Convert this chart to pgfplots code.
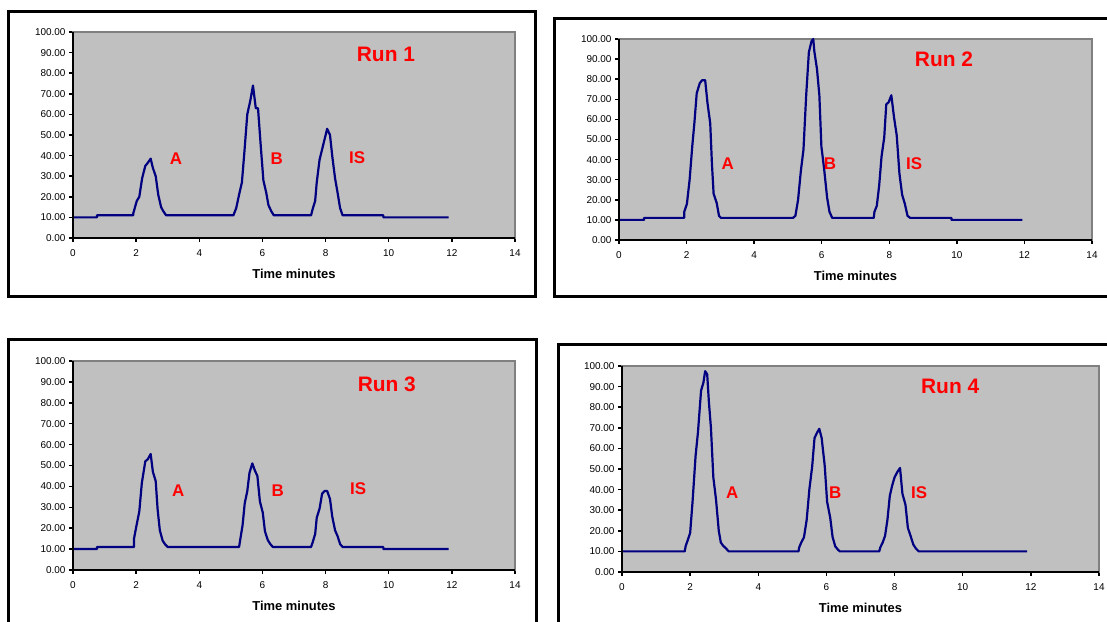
\documentclass[border=0pt]{standalone}
\usepackage{pgfplots}
\pgfplotsset{compat=1.18}
\usepackage{fontspec}
\setmainfont{Liberation Sans}
\definecolor{plotgray}{HTML}{C0C0C0}
\definecolor{axisgray}{HTML}{808080}
\definecolor{trace}{HTML}{000080}
\tikzset{
  runlabel/.style={red, font=\bfseries\fontsize{21}{24}\selectfont},
  peaklabel/.style={red, font=\bfseries\fontsize{17}{20}\selectfont},
  tr/.style={trace, line width=2.2bp, line join=round},
}
\pgfplotsset{
  chrom/.style={
    scale only axis, anchor=south west,
    xmin=0, xmax=14, ymin=0, ymax=100,
    xtick={0,2,...,14}, ytick={0,10,...,100},
    tick pos=left, tick align=outside, major tick length=4bp,
    tick style={black, line width=1.5bp},
    axis background/.style={fill=plotgray},
    axis line style={draw=axisgray, line width=1.5bp},
    ticklabel style={font=\fontsize{10}{12}\selectfont},
    xticklabel style={yshift=-4bp},
    /pgf/number format/assume math mode=true,
    yticklabel style={/pgf/number format/fixed, /pgf/number format/fixed zerofill, /pgf/number format/precision=2},
    xlabel={Time minutes},
    xlabel style={font=\bfseries\fontsize{13}{15}\selectfont, yshift=-6bp},
    clip=false,
  },
}
\begin{document}
\begin{tikzpicture}[x=1bp,y=1bp]
\path[use as bounding box, fill=white] (0,0) rectangle (1107,622);
\draw[line width=3bp] (8,325) rectangle (535,610);
\draw[line width=3bp] (1115,603) -- (554,603) -- (554,325) -- (1115,325);
\draw[line width=3bp] (8,-5) -- (8,282) -- (536,282) -- (536,-5);
\draw[line width=3bp] (558,-5) -- (558,277) -- (1115,277);

% Run 1
\begin{axis}[chrom, at={(73bp,384bp)}, width=442bp, height=206bp]
\addplot[tr] coordinates {
(0,10) (0.76,10) (0.76,11) (1.91,11) (1.91,12) (2.02,18) (2.10,20) (2.19,29) (2.29,35) (2.37,36.5) (2.46,38.5) (2.53,34) (2.62,30) (2.70,21) (2.79,15) (2.86,13) (2.95,11)
(5.08,11) (5.17,14.5) (5.26,21) (5.35,27) (5.43,42) (5.52,60) (5.62,67) (5.70,74) (5.79,63) (5.86,63) (5.95,44) (6.03,28) (6.12,22) (6.19,16) (6.28,13) (6.36,11)
(7.54,11) (7.59,14) (7.67,18) (7.72,27) (7.81,38) (7.89,43) (7.97,48) (8.05,53) (8.14,50) (8.21,40) (8.30,29) (8.38,22) (8.46,14.5) (8.54,11)
(9.83,11) (9.83,10) (11.90,10)};
\draw[black, line width=2bp] (rel axis cs:0,1) -- (rel axis cs:0,0) -- (rel axis cs:1,0);
\node[runlabel] at (rel axis cs:0.708,0.893) {Run 1};
\node[peaklabel] at (rel axis cs:0.233,0.383) {A};
\node[peaklabel] at (rel axis cs:0.461,0.383) {B};
\node[peaklabel] at (rel axis cs:0.643,0.39) {IS};
\end{axis}

% Run 2
\begin{axis}[chrom, at={(619bp,382bp)}, width=473bp, height=201bp]
\addplot[tr] coordinates {
(0,10) (0.74,10) (0.74,11) (1.93,11) (1.93,14) (2.01,18) (2.09,30) (2.17,47) (2.23,58) (2.30,73) (2.39,78) (2.46,79.5) (2.55,79.5) (2.62,68) (2.70,58) (2.75,38) (2.80,23) (2.89,18.5) (2.96,12) (3.02,11)
(5.15,11) (5.22,12) (5.30,20) (5.38,34) (5.46,45) (5.54,72) (5.62,93.5) (5.70,99) (5.75,100) (5.78,94) (5.86,85) (5.93,72) (5.99,46.5) (6.07,35.5) (6.16,21) (6.23,14) (6.31,11)
(7.54,11) (7.56,14) (7.63,17) (7.70,27) (7.77,41.5) (7.85,51) (7.91,67.5) (7.98,68.5) (8.06,72) (8.14,61) (8.22,52) (8.30,33) (8.38,22.5) (8.46,18) (8.54,12) (8.62,11)
(9.84,11) (9.84,10) (11.94,10)};
\draw[black, line width=2bp] (rel axis cs:0,1) -- (rel axis cs:0,0) -- (rel axis cs:1,0);
\node[runlabel] at (rel axis cs:0.687,0.90) {Run 2};
\node[peaklabel] at (rel axis cs:0.23,0.378) {A};
\node[peaklabel] at (rel axis cs:0.446,0.378) {B};
\node[peaklabel] at (rel axis cs:0.624,0.378) {IS};
\end{axis}

% Run 3
\begin{axis}[chrom, at={(73bp,52bp)}, width=442bp, height=209bp]
\addplot[tr] coordinates {
(0,10) (0.76,10) (0.76,11) (1.93,11) (1.93,14.8) (2.02,22) (2.10,28) (2.18,41.6) (2.29,52) (2.37,53) (2.46,55.5) (2.53,47) (2.62,42.5) (2.68,29) (2.75,19) (2.84,14) (2.92,12.2) (3.00,11)
(5.26,11) (5.30,14.8) (5.37,21.3) (5.44,32) (5.52,37.7) (5.59,46.5) (5.68,51) (5.76,47.6) (5.84,45) (5.92,32.8) (6.01,27.5) (6.08,18.5) (6.17,14.3) (6.25,12.4) (6.33,11)
(7.54,11) (7.59,13.2) (7.67,17.2) (7.72,25) (7.81,29.4) (7.89,36.5) (7.97,37.8) (8.05,37.8) (8.14,34) (8.21,25.7) (8.30,19) (8.38,16.2) (8.46,12.4) (8.54,11)
(9.83,11) (9.83,10) (11.90,10)};
\draw[black, line width=2bp] (rel axis cs:0,1) -- (rel axis cs:0,0) -- (rel axis cs:1,0);
\node[runlabel] at (rel axis cs:0.71,0.89) {Run 3};
\node[peaklabel] at (rel axis cs:0.238,0.378) {A};
\node[peaklabel] at (rel axis cs:0.463,0.378) {B};
\node[peaklabel] at (rel axis cs:0.645,0.39) {IS};
\end{axis}

% Run 4
\begin{axis}[chrom, at={(622bp,50bp)}, width=477bp, height=206bp]
\addplot[tr] coordinates {
(0,10) (1.84,10) (1.87,12.7) (1.93,15.5) (2.00,19) (2.07,34) (2.16,56.5) (2.23,68) (2.32,88) (2.39,92) (2.44,97.5) (2.50,96) (2.55,82.5) (2.61,70) (2.68,46) (2.76,35) (2.84,20) (2.90,14.3) (2.97,12.7) (3.05,11.5) (3.13,10)
(5.18,10) (5.20,11.9) (5.26,14.3) (5.34,16.8) (5.42,25.3) (5.50,40.3) (5.58,51) (5.65,65) (5.72,67.5) (5.79,69.5) (5.86,65) (5.95,51.5) (6.02,34) (6.11,26.5) (6.18,17) (6.26,12.4) (6.34,10.8) (6.39,10)
(7.55,10) (7.58,11.9) (7.65,14.3) (7.72,17.5) (7.79,25.3) (7.86,37) (7.93,42) (8.00,46) (8.08,48.5) (8.16,50.5) (8.23,38) (8.32,32.6) (8.39,21.4) (8.47,17.5) (8.55,13.3) (8.63,11.3) (8.71,10)
(11.89,10)};
\draw[black, line width=2bp] (rel axis cs:0,1) -- (rel axis cs:0,0) -- (rel axis cs:1,0);
\node[runlabel] at (rel axis cs:0.688,0.90) {Run 4};
\node[peaklabel] at (rel axis cs:0.231,0.386) {A};
\node[peaklabel] at (rel axis cs:0.447,0.386) {B};
\node[peaklabel] at (rel axis cs:0.623,0.386) {IS};
\end{axis}
\end{tikzpicture}
\end{document}
